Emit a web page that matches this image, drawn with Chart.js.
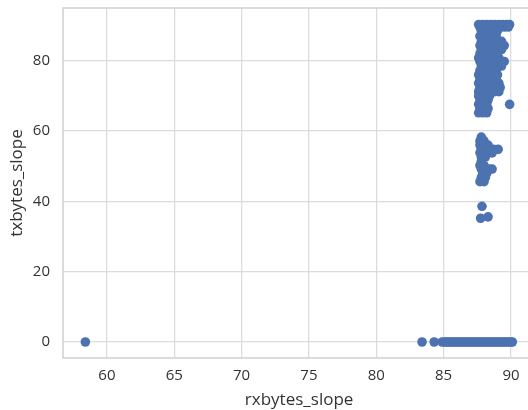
<!DOCTYPE html>
<html>
<head>
<meta charset="utf-8">
<script src="https://cdn.jsdelivr.net/npm/chart.js@4.4.0/dist/chart.umd.min.js"></script>
<style>
  html, body { margin: 0; padding: 0; background: #fff; overflow: hidden; }
</style>
</head>
<body>
<canvas id="scatterChart" width="540" height="410"></canvas>
<script>
const xTicks = [60, 65, 70, 75, 80, 85, 90];
const yTicks = [0, 20, 40, 60, 80];

// rxbytes_slope of the points sitting on txbytes_slope = 0
const zeroTxRx = [58.4, 83.4, 84.3, 84.9, 85.05, 85.2, 85.35, 85.5, 85.65, 85.8, 85.95,
    86.1, 86.25, 86.4, 86.55, 86.7, 86.85, 87.0, 87.15, 87.3, 87.45, 87.6, 87.75,
    87.9, 88.05, 88.2, 88.35, 88.5, 88.65, 88.8, 88.95, 89.1, 89.25, 89.4, 89.55,
    89.7, 89.85, 90.0, 90.1];

// [rxbytes_slope, txbytes_slope] of the tall group near 88
const upperPoints = [
    [87.6, 90.3], [87.9, 90.3], [88.2, 90.3], [88.5, 90.3], [88.8, 90.3], [89.1, 90.3], [89.4, 90.3], [89.7, 90.3], [89.9, 90.3],
    [87.7, 89.6], [88.0, 89.6], [88.3, 89.6], [88.6, 89.6], [88.9, 89.6], [89.2, 89.6], [89.5, 89.6], [89.8, 89.6],
    [87.8, 88.5], [88.1, 88.5], [88.4, 88.5], [88.7, 88.5], [89.0, 88.5],
    [87.7, 87.0], [88.0, 87.0], [88.3, 87.0], [88.6, 87.0], [88.9, 87.0],
    [88.15, 86.2], [88.45, 86.2], [88.75, 86.2],
    [87.8, 85.5], [88.1, 85.5], [88.4, 85.5], [88.7, 85.5], [89.0, 85.5], [89.3, 85.5],
    [87.7, 84.3], [88.0, 84.3], [88.3, 84.3], [88.6, 84.3], [88.9, 84.3], [89.2, 84.3], [89.5, 84.3],
    [87.8, 83.2], [88.1, 83.2], [88.4, 83.2], [88.7, 83.2], [89.0, 83.2], [89.3, 83.2],
    [87.7, 82.0], [88.0, 82.0], [88.3, 82.0], [88.6, 82.0], [88.9, 82.0],
    [88.15, 81.4], [88.45, 81.4], [88.75, 81.4],
    [87.6, 80.8], [87.9, 80.8], [88.2, 80.8], [88.5, 80.8], [88.8, 80.8], [89.1, 80.8],
    [87.7, 79.8], [88.0, 79.8], [88.3, 79.8], [88.6, 79.8], [88.9, 79.8], [89.2, 79.8], [89.5, 79.8],
    [87.8, 78.5], [88.1, 78.5], [88.4, 78.5], [88.7, 78.5], [89.0, 78.5], [89.3, 78.5],
    [87.7, 77.2], [88.0, 77.2], [88.3, 77.2], [88.6, 77.2], [88.9, 77.2],
    [87.6, 76.0], [87.9, 76.0], [88.2, 76.0], [88.5, 76.0], [88.8, 76.0], [89.0, 76.0],
    [88.15, 75.4], [88.45, 75.4],
    [87.7, 74.8], [88.0, 74.8], [88.3, 74.8], [88.6, 74.8], [88.9, 74.8],
    [87.6, 73.6], [87.9, 73.6], [88.2, 73.6], [88.5, 73.6], [88.8, 73.6], [89.1, 73.6],
    [87.7, 72.4], [88.0, 72.4], [88.3, 72.4], [88.6, 72.4], [88.9, 72.4], [89.2, 72.4],
    [87.6, 71.2], [87.9, 71.2], [88.2, 71.2], [88.5, 71.2], [88.8, 71.2], [89.1, 71.2],
    [87.6, 70.0], [87.9, 70.0], [88.2, 70.0], [88.4, 70.0],
    [87.85, 69.4], [88.15, 69.4],
    [87.7, 68.8], [88.0, 68.8], [88.3, 68.8],
    [87.6, 67.6], [87.9, 67.6], [88.2, 67.6], [89.9, 67.6],
    [87.7, 66.4], [88.0, 66.4], [88.3, 66.4],
    [87.85, 65.8],
    [87.6, 65.2], [87.9, 65.2], [88.2, 65.2]
];

// [rxbytes_slope, txbytes_slope] of the middle group and the stragglers below it
const middlePoints = [
    [87.8, 58.3],
    [87.7, 57.2], [88.0, 57.2],
    [87.7, 56.0], [88.0, 56.0], [88.3, 56.0],
    [87.8, 54.8], [88.1, 54.8], [88.4, 54.8], [88.7, 54.8], [89.05, 54.8],
    [87.7, 53.8], [88.0, 53.8], [88.3, 53.8], [88.6, 53.8],
    [87.8, 52.6], [88.1, 52.6],
    [87.8, 51.4],
    [87.7, 50.2], [88.0, 50.2],
    [87.8, 49.2], [88.1, 49.2], [88.4, 49.2], [88.6, 49.2],
    [87.9, 48.0], [88.2, 48.0],
    [87.8, 46.8], [88.1, 46.8],
    [87.7, 45.6], [88.0, 45.6],
    [87.85, 38.6],
    [87.75, 35.2], [88.3, 35.6]
];

const allPoints = zeroTxRx.map(x => ({x: x, y: 0}))
    .concat(upperPoints.map(p => ({x: p[0], y: p[1]})))
    .concat(middlePoints.map(p => ({x: p[0], y: p[1]})));

const gridColor = '#dcdcdc';
const tickColor = '#333333';
const fontFamily = "'Open Sans', 'DejaVu Sans', sans-serif";

// seaborn whitegrid draws a light frame on all four sides
const framePlugin = {
    id: 'frame',
    beforeDatasetsDraw(chart) {
        const {ctx, chartArea: a} = chart;
        ctx.save();
        ctx.strokeStyle = '#cfcfcf';
        ctx.lineWidth = 1.5;
        ctx.strokeRect(a.left, a.top, a.right - a.left, a.bottom - a.top);
        ctx.restore();
    }
};

new Chart(document.getElementById('scatterChart'), {
    type: 'scatter',
    data: {
        datasets: [{
            data: allPoints,
            backgroundColor: '#4c72b0',
            borderColor: '#4c72b0',
            borderWidth: 0,
            pointRadius: 4.8,
            pointHoverRadius: 4.8
        }]
    },
    options: {
        responsive: false,
        animation: false,
        layout: { padding: { top: 8, right: 4, left: 0, bottom: 0 } },
        plugins: { legend: { display: false }, tooltip: { enabled: false } },
        scales: {
            x: {
                type: 'linear',
                min: 56.74,
                max: 91.8,
                afterBuildTicks: s => { s.ticks = xTicks.map(v => ({value: v})); },
                afterFit: s => { s.height = 52; s.paddingLeft = 0; s.paddingRight = 0; },
                grid: { color: gridColor, lineWidth: 1.3, drawTicks: false },
                border: { display: false },
                ticks: { color: tickColor, padding: 9, font: { family: fontFamily, size: 15 } },
                title: {
                    display: true,
                    text: 'rxbytes_slope',
                    color: tickColor,
                    padding: 0,
                    font: { family: fontFamily, size: 17 }
                }
            },
            y: {
                type: 'linear',
                min: -4.55,
                max: 95,
                afterBuildTicks: s => { s.ticks = yTicks.map(v => ({value: v})); },
                afterFit: s => { s.width = 63; s.paddingTop = 0; s.paddingBottom = 0; },
                grid: { color: gridColor, lineWidth: 1.3, drawTicks: false },
                border: { display: false },
                ticks: { color: tickColor, padding: 13, font: { family: fontFamily, size: 15 } },
                title: {
                    display: true,
                    text: 'txbytes_slope',
                    color: tickColor,
                    padding: { top: 7, bottom: 0 },
                    font: { family: fontFamily, size: 17 }
                }
            }
        }
    },
    plugins: [framePlugin]
});
</script>
</body>
</html>
